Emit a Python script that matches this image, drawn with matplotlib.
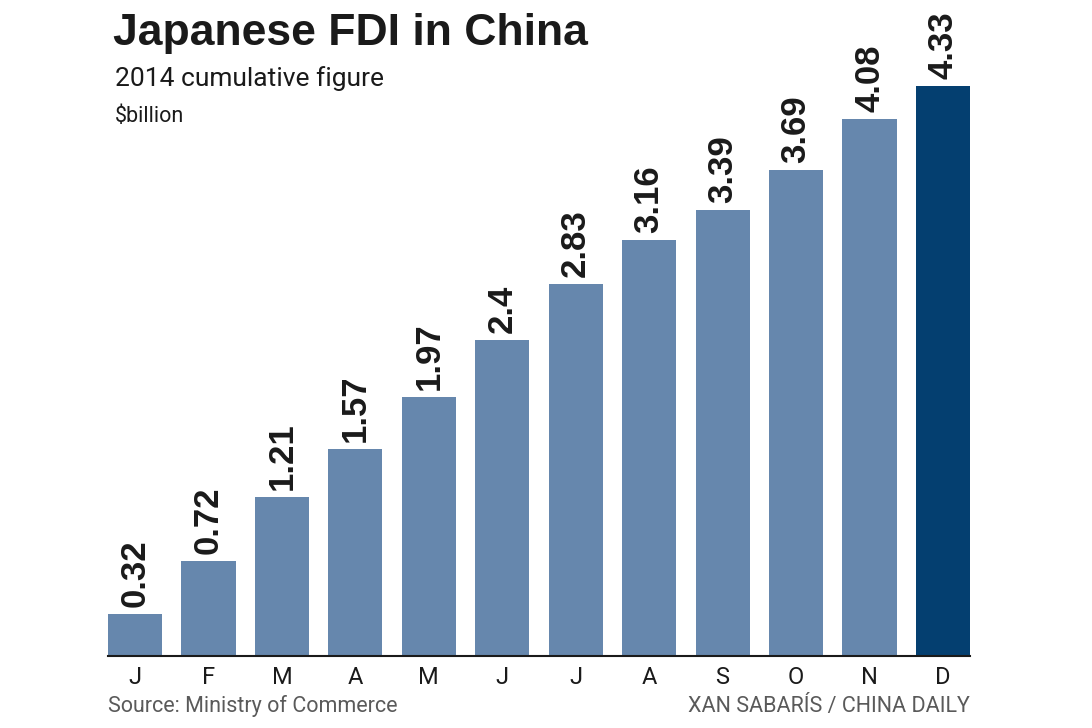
import numpy as np
import matplotlib.pyplot as plt

months = ["J", "F", "M", "A", "M", "J", "J", "A", "S", "O", "N", "D"]
values = [0.32, 0.72, 1.21, 1.57, 1.97, 2.4, 2.83, 3.16, 3.39, 3.69, 4.08, 4.33]
labels = ["0.32", "0.72", "1.21", "1.57", "1.97", "2.4", "2.83", "3.16", "3.39", "3.69", "4.08", "4.33"]

light = "#6687ad"
dark = "#043f70"
colors = [light] * 11 + [dark]

fig = plt.figure(figsize=(10.92, 7.28), dpi=100)
ax = fig.add_axes([108 / 1092, 72 / 728, 862 / 1092, 656 / 728])

x = np.arange(len(values))
ax.bar(x, values, width=0.736, color=colors)
ax.set_xlim(-0.368, 11.368)
ax.set_ylim(0, 4.985)

for xi, v, lab in zip(x, values, labels):
    ax.annotate(lab, (xi, v), xytext=(0, 5), textcoords="offset points",
                rotation=90, ha="center", va="bottom",
                fontsize=25, fontweight="bold", family="Liberation Sans", color="#1a1a1a")

for s in ["top", "right", "left"]:
    ax.spines[s].set_visible(False)
ax.spines["bottom"].set_linewidth(1.5)
ax.spines["bottom"].set_color("#1a1a1a")
ax.set_yticks([])
ax.set_xticks(x)
ax.set_xticklabels(months, fontsize=17, family="Roboto", color="#1a1a1a")
ax.tick_params(axis="x", length=0, pad=7)

fig.text(113 / 1092, 1 - 45 / 728, "Japanese FDI in China", fontsize=32, fontweight="bold",
         family="Liberation Sans", va="baseline", color="#1a1a1a")
fig.text(115 / 1092, 1 - 86 / 728, "2014 cumulative figure", fontsize=19,
         family="Roboto", va="baseline", color="#1a1a1a")
fig.text(115 / 1092, 1 - 122 / 728, "$billion", fontsize=15.5,
         family="Roboto", va="baseline", color="#1a1a1a")
fig.text(108 / 1092, 1 - 712 / 728, "Source: Ministry of Commerce", fontsize=15.5,
         family="Roboto", va="baseline", color="#5a5a5a")
fig.text(970 / 1092, 1 - 712 / 728, "XAN SABARÍS / CHINA DAILY", fontsize=15.5,
         family="Roboto", va="baseline", ha="right", color="#5a5a5a")

fig.savefig("out.png", dpi=100)
